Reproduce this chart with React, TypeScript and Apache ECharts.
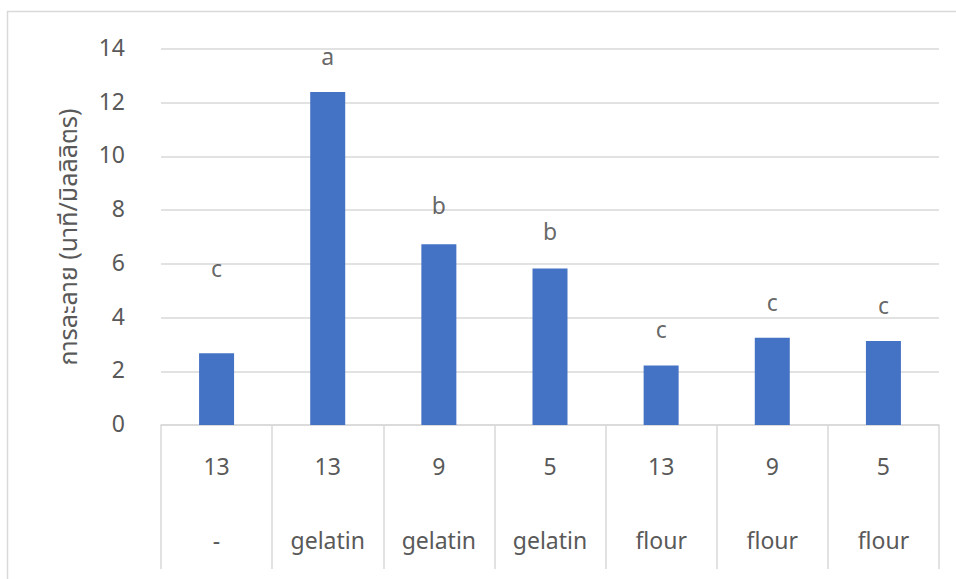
import React, { useEffect, useRef } from "react";
import * as echarts from "echarts";

// Treatment groups: concentration (top row) and binder (bottom row)
const strengths = ["13", "13", "9", "5", "13", "9", "5"];
const binders = ["-", "gelatin", "gelatin", "gelatin", "flour", "flour", "flour"];

// Mean dissolution time (minutes per millilitre)
const dissolution = [2.67, 12.4, 6.73, 5.83, 2.22, 3.25, 3.13];

// Significance letters and the height at which each is written
const groupLetters = ["c", "a", "b", "b", "c", "c", "c"];
const letterLevels = [5.77, 13.67, 8.11, 7.16, 3.51, 4.52, 4.4];

const yMin = 0;
const yMax = 14;
const yStep = 2;

const FONT = '"Noto Sans Thai", "Leelawadee UI", Tahoma, "Noto Sans", sans-serif';
const TEXT = "#595959";
const LINE = "#d9d9d9";

export default function App() {
  const ref = useRef<HTMLDivElement>(null);

  useEffect(() => {
    if (!ref.current) return;
    const chart = echarts.init(ref.current, undefined, { renderer: "svg" });
    const categories = strengths.map((s, i) => `${s}\n${binders[i]}`);

    chart.setOption({
      animation: false,
      backgroundColor: "#ffffff",
      textStyle: { fontFamily: FONT },
      graphic: [
        {
          type: "rect",
          shape: { x: 7.5, y: 11.5, width: 960, height: 600 },
          style: { fill: "none", stroke: LINE, lineWidth: 1.5 },
          silent: true,
          z: -1,
        },
      ],
      grid: { left: 161, right: 17, top: 49, height: 380, containLabel: false },
      xAxis: {
        type: "category",
        data: categories,
        boundaryGap: true,
        axisLine: { show: true, lineStyle: { color: LINE, width: 1.5 } },
        axisTick: {
          show: true,
          interval: 0,
          alignWithLabel: false,
          length: 144,
          lineStyle: { color: LINE, width: 1.5 },
        },
        axisLabel: {
          interval: 0,
          margin: 6,
          color: TEXT,
          fontSize: 23,
          fontFamily: FONT,
          lineHeight: 74,
        },
      },
      yAxis: {
        type: "value",
        min: yMin,
        max: yMax,
        interval: yStep,
        name: "การละลาย (นาที/มิลลิลิตร)",
        nameLocation: "middle",
        nameGap: 80,
        nameTextStyle: { color: TEXT, fontSize: 25, fontFamily: FONT },
        axisLine: { show: false },
        axisTick: { show: false },
        axisLabel: { color: TEXT, fontSize: 23, margin: 36, fontFamily: FONT },
        splitLine: { show: true, lineStyle: { color: LINE, width: 1.5 } },
      },
      series: [
        {
          type: "bar",
          data: dissolution,
          barWidth: 35,
          itemStyle: { color: "#4472c4" },
          z: 2,
        },
        {
          type: "scatter",
          data: letterLevels.map((v, i) => [i, v]),
          symbolSize: 1,
          itemStyle: { color: "rgba(0,0,0,0)" },
          label: {
            show: true,
            position: "inside",
            formatter: (p: any) => groupLetters[p.dataIndex],
            color: "#404040",
            fontSize: 23,
            fontFamily: FONT,
          },
          z: 3,
        },
      ],
    });

    return () => chart.dispose();
  }, []);

  return (
    <div
      ref={ref}
      style={{ position: "fixed", left: 0, top: 0, width: 956, height: 579 }}
    />
  );
}
